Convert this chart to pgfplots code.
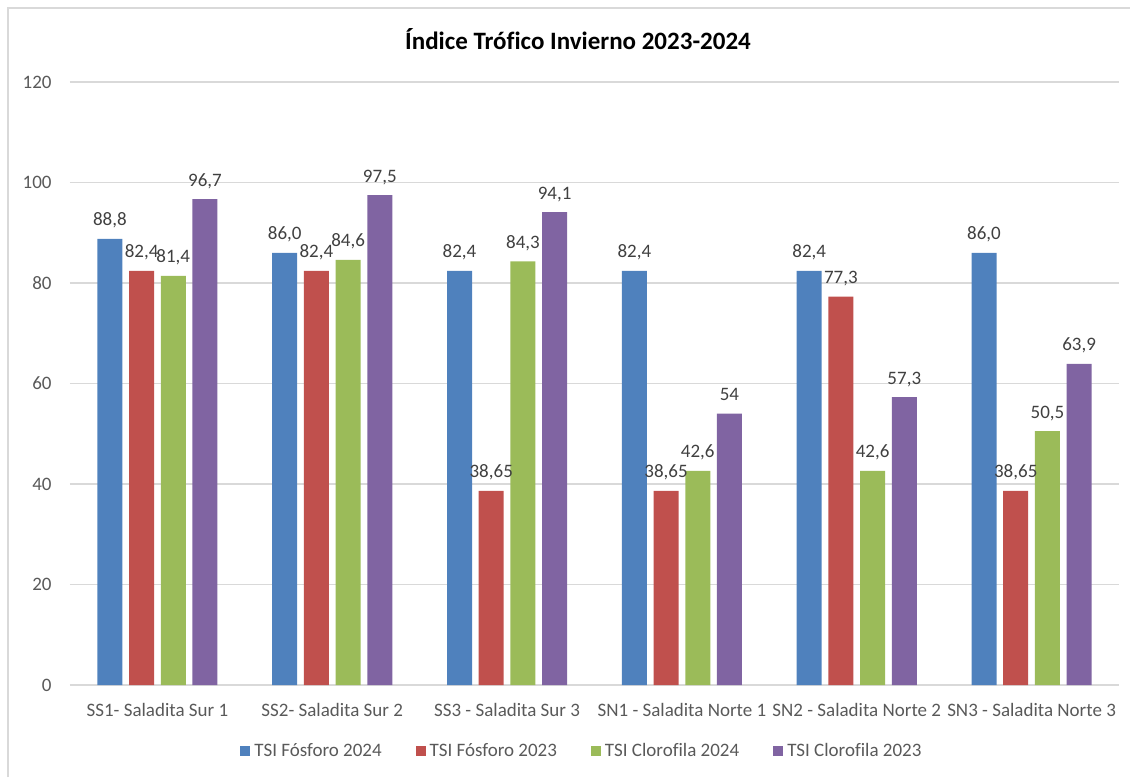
\documentclass[border=0pt]{standalone}
\usepackage{pgfplots}
\pgfplotsset{compat=1.18}
\usepackage{pgfplotstable}
\usepackage{fontspec}
\setmainfont{Carlito}[Ligatures=NoCommon]
\definecolor{cblue}{HTML}{4F81BD}
\definecolor{cred}{HTML}{C0504D}
\definecolor{cgreen}{HTML}{9BBB59}
\definecolor{cpurple}{HTML}{8064A2}
\definecolor{gridc}{HTML}{D9D9D9}
\definecolor{tickc}{HTML}{595959}
\definecolor{labc}{HTML}{404040}

\pgfplotstableread{
x y lab
0 88.8 88,8
1 86.0 86,0
2 82.4 82,4
3 82.4 82,4
4 82.4 82,4
5 86.0 86,0
}\tpa
\pgfplotstableread{
x y lab
0 82.4 82,4
1 82.4 82,4
2 38.65 38,65
3 38.65 38,65
4 77.3 77,3
5 38.65 38,65
}\tpb
\pgfplotstableread{
x y lab
0 81.4 81,4
1 84.6 84,6
2 84.3 84,3
3 42.6 42,6
4 42.6 42,6
5 50.5 50,5
}\tcc
\pgfplotstableread{
x y lab
0 96.7 96,7
1 97.5 97,5
2 94.1 94,1
3 54 54
4 57.3 57,3
5 63.9 63,9
}\tcd

\begin{document}
\begin{tikzpicture}
\begin{axis}[
  at={(35pt,46pt)}, anchor=south west,
  scale only axis, width=524.5pt, height=301.5pt,
  ybar=3.35pt, bar width=12.5pt,
  xmin=-0.5, xmax=5.5, ymin=0, ymax=120,
  xtick={0,...,5},
  xticklabels={SS1- Saladita Sur 1, SS2- Saladita Sur 2, SS3 - Saladita Sur 3, SN1 - Saladita Norte 1, SN2 - Saladita Norte 2, SN3 - Saladita Norte 3},
  ytick={0,20,...,120},
  ymajorgrids, grid style={gridc, line width=0.75pt},
  axis line style={draw=none},
  major tick length=0pt,
  tick label style={font=\fontsize{9.5}{11}\selectfont, text=tickc},
  xticklabel style={anchor=base, yshift=-15.5pt},
  yticklabel style={anchor=east, inner sep=0pt, xshift=-9pt},
  /pgf/number format/assume math mode=true,
  point meta=explicit symbolic,
  nodes near coords,
  nodes near coords style={font=\fontsize{9.5}{11}\selectfont, text=labc, anchor=base, inner sep=0pt, yshift=6.5pt},
  legend columns=4,
  legend style={at={(0.489,-0.1095)}, anchor=center, draw=none, fill=none,
    font=\fontsize{9.5}{11}\selectfont, text=tickc,
    /tikz/every even column/.append style={column sep=15pt}},
  legend image code/.code={\fill[#1, draw=none] (0pt,-2.5pt) rectangle (5pt,2.5pt);},
]
\addplot[fill=cblue, draw=none] table[x=x, y=y, meta=lab] {\tpa};
\addlegendentry{TSI Fósforo 2024}
\addplot[fill=cred, draw=none] table[x=x, y=y, meta=lab] {\tpb};
\addlegendentry{TSI Fósforo 2023}
\addplot[fill=cgreen, draw=none] table[x=x, y=y, meta=lab] {\tcc};
\addlegendentry{TSI Clorofila 2024}
\addplot[fill=cpurple, draw=none] table[x=x, y=y, meta=lab] {\tcd};
\addlegendentry{TSI Clorofila 2023}
\end{axis}
\node[font=\fontsize{12.5}{15}\selectfont\bfseries, text=black, anchor=base] at (289pt,363.8pt) {Índice Trófico Invierno 2023-2024};
\draw[gridc, line width=0.75pt] (4pt,0pt) -- (4pt,384.5pt) -- (566pt,384.5pt);
\pgfresetboundingbox
\path[use as bounding box] (0pt,0pt) rectangle (565pt,388.5pt);
\end{tikzpicture}
\end{document}
